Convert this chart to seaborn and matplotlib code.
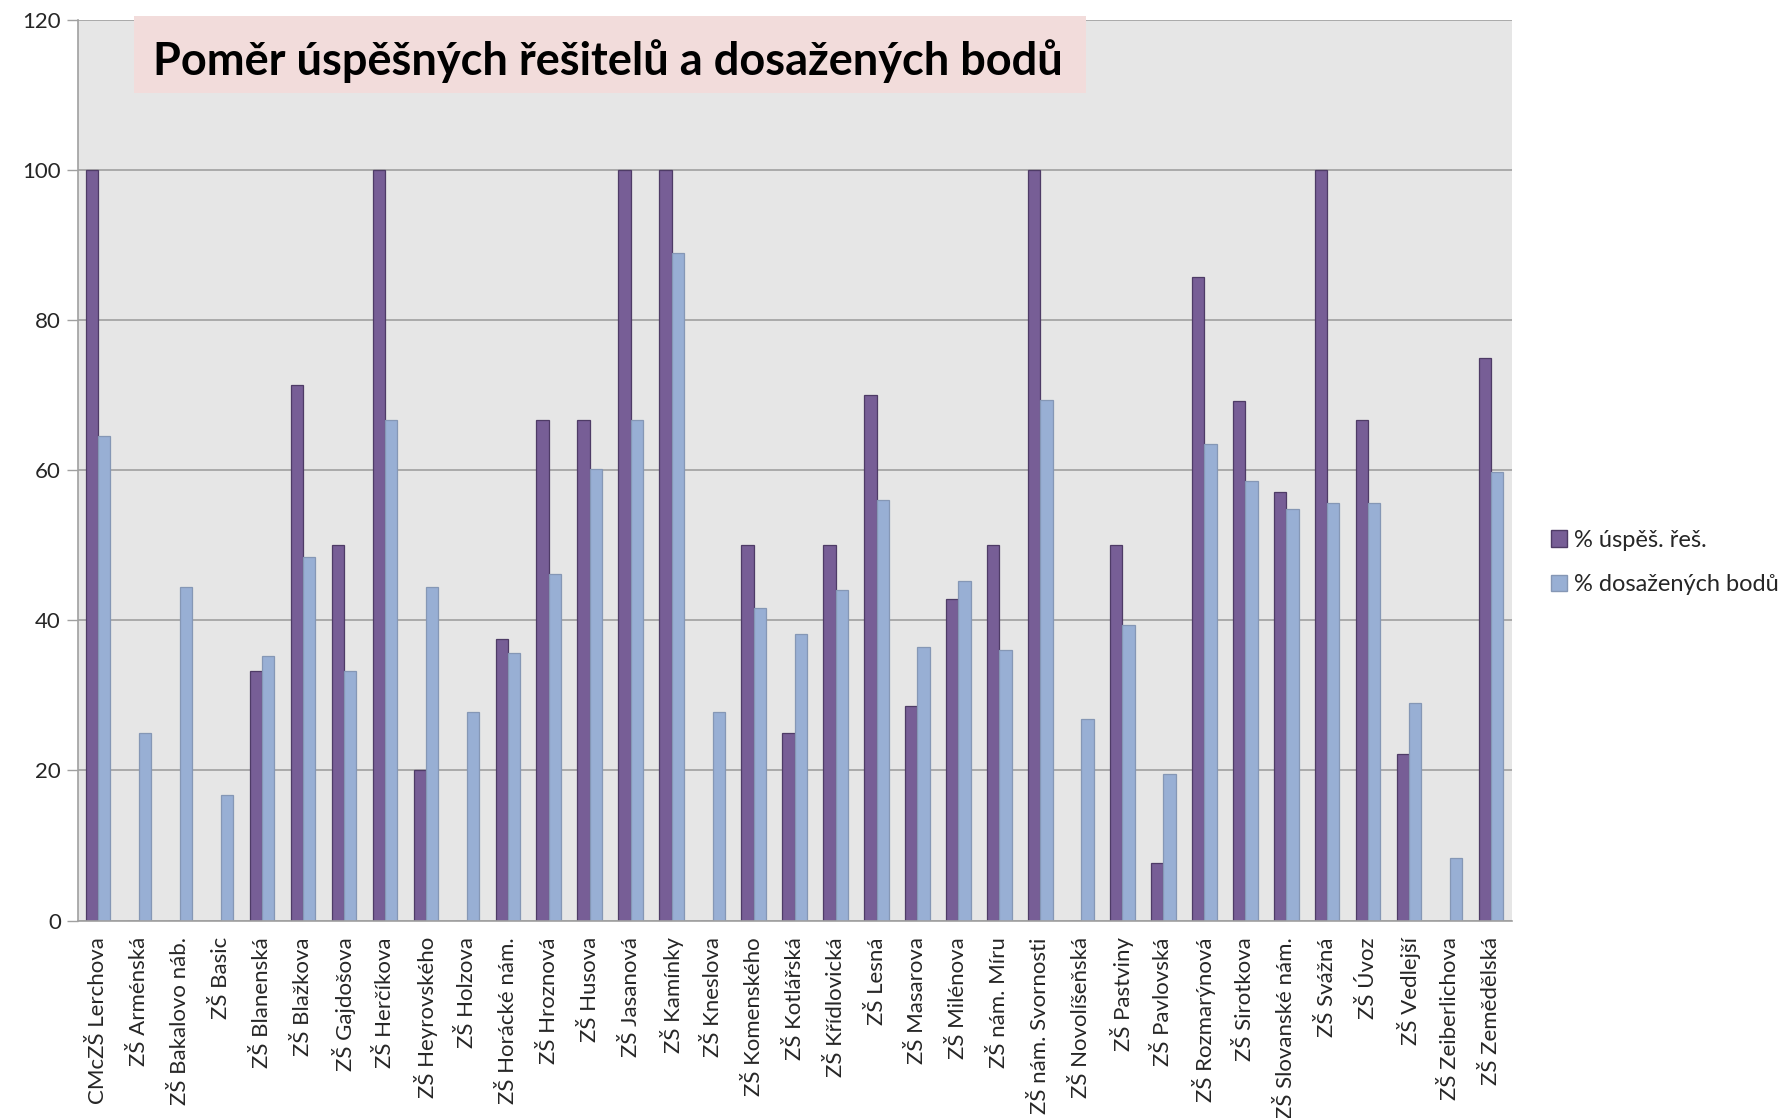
import numpy as np
import pandas as pd
import matplotlib
matplotlib.use("Agg")
import matplotlib.pyplot as plt
from matplotlib.patches import Rectangle, Patch
import seaborn as sns

schools = ["CMcZŠ Lerchova", "ZŠ Arménská", "ZŠ Bakalovo náb.", "ZŠ Basic", "ZŠ Blanenská",
           "ZŠ Blažkova", "ZŠ Gajdošova", "ZŠ Herčíkova", "ZŠ Heyrovského", "ZŠ Holzova",
           "ZŠ Horácké nám.", "ZŠ Hroznová", "ZŠ Husova", "ZŠ Jasanová", "ZŠ Kamínky",
           "ZŠ Kneslova", "ZŠ Komenského", "ZŠ Kotlářská", "ZŠ Křídlovická", "ZŠ Lesná",
           "ZŠ Masarova", "ZŠ Milénova", "ZŠ nám. Míru", "ZŠ nám. Svornosti", "ZŠ Novolíšeňská",
           "ZŠ Pastviny", "ZŠ Pavlovská", "ZŠ Rozmarýnová", "ZŠ Sirotkova", "ZŠ Slovanské nám.",
           "ZŠ Svážná", "ZŠ Úvoz", "ZŠ Vedlejší", "ZŠ Zeiberlichova", "ZŠ Zemědělská"]
uspesni = [100, 0, 0, 0, 33.3, 71.4, 50, 100, 20, 0,
           37.5, 66.7, 66.7, 100, 100, 0, 50, 25, 50, 70,
           28.6, 42.9, 50, 100, 0, 50, 7.7, 85.7, 69.2, 57.1,
           100, 66.7, 22.2, 0, 75]
body = [64.5, 25, 44.4, 16.7, 35.3, 48.4, 33.3, 66.7, 44.4, 27.8,
        35.7, 46.2, 60.2, 66.7, 88.9, 27.8, 41.7, 38.2, 44.1, 56.1,
        36.4, 45.3, 36.1, 69.4, 26.9, 39.4, 19.5, 63.5, 58.6, 54.8,
        55.6, 55.6, 29.0, 8.3, 59.8]
series_names = ["% úspěš. řeš.", "% dosažených bodů"]
y_ticks = [0, 20, 40, 60, 80, 100, 120]
title = "Poměr úspěšných řešitelů a dosažených bodů"

df = pd.DataFrame({
    "school": schools * 2,
    "value": uspesni + body,
    "series": [series_names[0]] * len(schools) + [series_names[1]] * len(schools),
})

sns.set_theme(style="white")
plt.rcParams["font.family"] = ["Lato", "DejaVu Sans"]

fill_cols = ["#775E96", "#98AFD4"]
edge_cols = ["#4E3B66", "#8597B5"]

fig = plt.figure(figsize=(17.88, 11.18), dpi=100)
ax = fig.add_axes([0.0434, 0.1766, 0.8020, 0.8056])
ax.set_facecolor("#E6E6E6")

sns.barplot(data=df, x="school", y="value", hue="series", palette=fill_cols,
            width=0.6, ax=ax, legend=False, saturation=1)
for cont, ec in zip(ax.containers, edge_cols):
    for p in cont.patches:
        p.set_edgecolor(ec)
        p.set_linewidth(0.9)

ax.set_ylim(0, 120)
ax.set_xlim(-0.5, len(schools) - 0.5)
ax.set_yticks(y_ticks)
ax.set_yticklabels([str(v) for v in y_ticks], fontsize=16)
ax.yaxis.grid(True, color="#A0A0A0", linewidth=1.2)
ax.set_axisbelow(True)
ax.set_xlabel("")
ax.set_ylabel("")
ax.set_xticks(range(len(schools)))
ax.set_xticklabels(schools, rotation=90, fontsize=16)
ax.set_xticks(np.arange(-0.5, len(schools), 1), minor=True)
ax.tick_params(axis="x", which="major", length=0, pad=12)
ax.tick_params(axis="x", which="minor", length=9, color="#A0A0A0", width=1)
ax.tick_params(axis="y", length=8, color="#A0A0A0", width=1, left=True, pad=4)
for s in ["top", "right"]:
    ax.spines[s].set_visible(False)
for s in ["left", "bottom"]:
    ax.spines[s].set_color("#A0A0A0")
    ax.spines[s].set_linewidth(1.2)

# title box
fig.patches.append(Rectangle((0.0747, 0.9164), 0.5327, 0.0693, transform=fig.transFigure,
                             facecolor="#F2DCDB", edgecolor="none", zorder=5))
fig.text(0.0856, 0.9455, title, fontsize=32.5, fontweight="bold", color="black",
         va="center", ha="left", zorder=6)

handles = [Patch(facecolor=fill_cols[i], edgecolor=edge_cols[i]) for i in range(2)]
fig.legend(handles, series_names, loc="center left", bbox_to_anchor=(0.862, 0.497),
           frameon=False, fontsize=17, handlelength=0.7, handleheight=0.7,
           handletextpad=0.3, labelspacing=1.0, borderaxespad=0)

fig.savefig("out.png", dpi=100)
